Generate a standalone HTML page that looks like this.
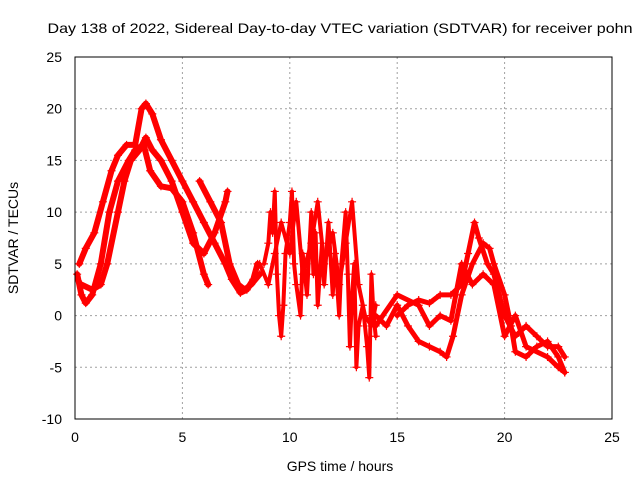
<!DOCTYPE html>
<html><head><meta charset="utf-8"><style>
body{margin:0;background:#fff}
svg{display:block;font-family:"Liberation Sans",sans-serif}
</style></head><body>
<svg id="chart" width="640" height="480" viewBox="0 0 640 480">
<rect width="640" height="480" fill="#fff"/>
<text x="340" y="33" font-size="14" text-anchor="middle" textLength="585" lengthAdjust="spacingAndGlyphs">Day 138 of 2022, Sidereal Day-to-day VTEC variation (SDTVAR) for receiver pohn</text>
<g id="grid"></g>
<g id="ticks"></g>
<g id="series"></g>
<rect x="75" y="57" width="537" height="362" fill="none" stroke="#000" stroke-width="1"/>
<text x="340" y="471" font-size="14" text-anchor="middle">GPS time / hours</text>
<text x="0" y="0" font-size="14" text-anchor="middle" transform="translate(18,238) rotate(-90)">SDTVAR / TECUs</text>
</svg>
<script>
const xTicks=[0,5,10,15,20,25];
const yTicks=[-10,-5,0,5,10,15,20,25];
const curve1=[[0.1,4],[0.3,2],[0.5,1.2],[0.8,2],[1.2,5],[1.6,10],[2,13],[2.5,15],[2.8,16],[3.2,16.5],[3.5,14],[4,12.5],[4.5,12.3],[5,11],[5.5,8],[6,4],[6.2,3]];
const curve2=[[0.2,5],[0.5,6.5],[0.9,8],[1.3,11],[1.7,14],[2,15.5],[2.4,16.5],[2.8,16.5],[3.1,20],[3.3,20.5],[3.6,19.5],[4,17],[4.5,15],[5,13],[5.5,11],[6,9],[6.5,7],[7,5],[7.3,3.5],[7.7,2.2],[8,2.5],[8.3,3.5],[8.5,5]];
const curve3=[[0.3,3],[0.8,2.5],[1.2,3],[1.5,5],[2,10],[2.3,13],[2.6,15],[3,16],[3.3,17.2],[3.6,16],[4,15],[4.5,13],[5,10],[5.5,7],[6,6],[6.5,8],[7,11],[7.1,12]];
const curve4=[[5.8,13],[6.3,11],[6.8,9],[7.2,5],[7.6,3],[7.9,2.5],[8.2,3],[8.6,4]];
const noisy1=[[8.8,5],[9,7],[9.1,10],[9.2,8],[9.3,12],[9.4,4],[9.5,0],[9.6,-2],[9.7,1],[9.8,6],[10,9],[10.1,12],[10.2,5],[10.3,3],[10.5,0],[10.6,6],[10.8,2],[11,10],[11.1,4],[11.2,8],[11.3,1],[11.5,7],[11.6,3],[11.8,9],[12,2],[12.1,6],[12.3,0],[12.4,5],[12.6,10],[12.7,4],[12.8,-3],[12.9,2],[13,5],[13.1,-5],[13.2,-1],[13.4,1],[13.6,-3],[13.7,-6],[13.8,4],[13.9,0],[14,-2]];
const noisy2=[[8.6,5],[9,3],[9.3,6],[9.6,9],[10,6],[10.3,11],[10.6,4],[11,7],[11.3,11],[11.6,5],[12,8],[12.3,3],[12.6,7],[12.9,11],[13.2,3],[13.5,0],[13.8,-1],[14,1]];
const curve5=[[14,0],[14.5,-1],[15,1],[15.5,-1],[16,-2.5],[16.5,-3],[17,-3.5],[17.3,-4],[17.6,-2],[18,2],[18.5,5],[19,7],[19.3,6.5],[19.5,5],[20,2],[20.3,-1],[20.5,-3.5],[21,-4],[21.5,-3],[22,-2.5],[22.5,-4],[22.8,-5.5]];
const curve6=[[15,0],[15.5,1],[16,1.5],[16.5,1.2],[17,2],[17.5,2],[18,3],[18.3,6],[18.6,9],[18.8,7.5],[19.2,5],[19.5,4],[20,0],[20.5,-2],[21,-1],[21.5,-2],[22,-3],[22.5,-3],[22.8,-4]];
const curve7=[[14,-1],[15,2],[16,1],[16.5,-1],[17,0],[17.5,-0.5],[18,5],[18.5,3],[19,4],[19.5,3],[20,-2],[20.5,0],[21,-3],[22,-4],[22.5,-5],[22.8,-5.5]];
const NS='http://www.w3.org/2000/svg';
const X=v=>75+v*(537/25);
const Y=v=>419-(v+10)*(362/35);
const grid=document.getElementById('grid'),ticks=document.getElementById('ticks'),ser=document.getElementById('series');
function mk(t,a,p){const e=document.createElementNS(NS,t);for(const k in a)e.setAttribute(k,a[k]);p.appendChild(e);return e;}
xTicks.forEach(v=>{
 if(v>0&&v<25){const l=mk('line',{x1:X(v),x2:X(v),y1:57,y2:419,stroke:'#a0a0a0','stroke-dasharray':'2,3'},grid);
 
 }
 const t=mk('text',{x:X(v),y:442,'font-size':14,'text-anchor':'middle'},ticks);t.textContent=v;
 
 
});
yTicks.forEach(v=>{
 if(v>-10&&v<25){const l=mk('line',{x1:75,x2:612,y1:Y(v),y2:Y(v),stroke:'#a0a0a0','stroke-dasharray':'2,3'},grid);
 
 }
 const t=mk('text',{x:62,y:Y(v)+5,'font-size':14,'text-anchor':'end'},ticks);t.textContent=v;
 
 
});
function draw(arr,w,name){
 const p=mk('polyline',{points:arr.map(d=>X(d[0])+','+Y(d[1])).join(' '),fill:'none',stroke:'#f00','stroke-width':w,'stroke-linejoin':'round','stroke-linecap':'round'},ser);
 
 
 arr.forEach(d=>{const m=mk('path',{d:`M${X(d[0])-4},${Y(d[1])}h8M${X(d[0])},${Y(d[1])-4}v8`,stroke:'#f00','stroke-width':1.2},ser);
 
 });
}
draw(curve1,6,'series-curve-1');draw(curve2,6,'series-curve-2');draw(curve3,6,'series-curve-3');draw(curve4,6,'series-curve-4');
draw(noisy1,4,'series-noisy-1');draw(noisy2,4,'series-noisy-2');
draw(curve5,5,'series-curve-5');draw(curve6,5,'series-curve-6');draw(curve7,5,'series-curve-7');
</script>
</body></html>
